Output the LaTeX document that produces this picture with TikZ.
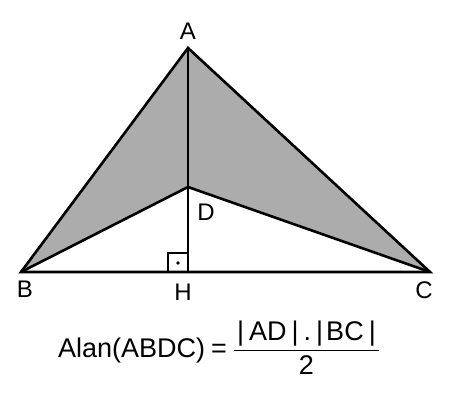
\documentclass[tikz,border=0pt]{standalone}
\usepackage{amsmath}
\usepackage{fontspec}
\setmainfont{Liberation Sans}
\usepackage{tikz}
\usetikzlibrary{calc}

\begin{document}
\begin{tikzpicture}[
  x=1pt, y=-1pt,
  font=\fontsize{24}{28}\selectfont,
  edge/.style={draw=black, line width=2.6pt, line join=miter},
  shade/.style={fill=gray!65},
  ptlabel/.style={inner sep=0pt}
]
  \useasboundingbox (0,0) rectangle (474,401);
  \coordinate (A) at (188,48);
  \coordinate (B) at (21,272);
  \coordinate (C) at (430,272);
  \coordinate (D) at (188,187);
  \coordinate (H) at (188,272);
  % shaded concave region ABDC
  \fill[shade] (A) -- (B) -- (D) -- (C) -- cycle;
  \draw[edge] (A) -- (B) -- (C) -- cycle;
  \draw[edge] (B) -- (D) -- (C);
  \draw[edge] (A) -- (H);
  % right angle mark
  \draw[line width=2.2pt] (168,272) -- (168,253) -- (188,253);
  \fill (178,263) circle (1.8pt);
  \node[ptlabel] (lA) at (188,31) {A};
  \node[ptlabel] (lB) at (25,289) {B};
  \node[ptlabel] (lC) at (424,290) {C};
  \node[ptlabel] (lD) at (206,212) {D};
  \node[ptlabel] (lH) at (183,292) {H};
  \node[ptlabel, anchor=base west, font=\fontsize{27}{31}\selectfont] (area) at (58,357)
    {Alan(ABDC)\hspace{6pt}=\hspace{6pt}$\dfrac{\text{\kern3pt|\kern5pt AD\kern5pt|\kern5pt.\kern5pt|\kern3pt BC\kern5pt|\kern3pt}}{\text{2}}$};
\end{tikzpicture}
\end{document}
